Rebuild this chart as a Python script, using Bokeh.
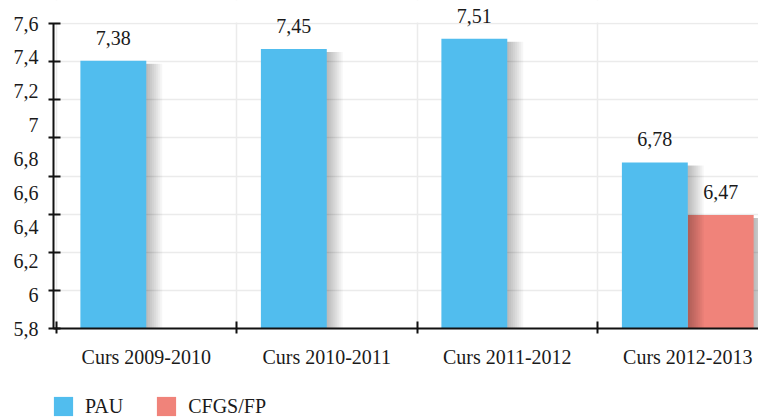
from bokeh.plotting import figure
from bokeh.layouts import column
from bokeh.models import (Range1d, FixedTicker, CustomJSTickFormatter, Legend,
                          LegendItem, ColumnDataSource, BoxAnnotation)
from bokeh.transform import dodge
from bokeh.core.properties import value
from bokeh.embed import file_html
from bokeh.resources import INLINE

# ---- data ----
categories = ["Curs 2009-2010", "Curs 2010-2011", "Curs 2011-2012", "Curs 2012-2013"]
pau_categories = ["Curs 2009-2010", "Curs 2010-2011", "Curs 2011-2012", "Curs 2012-2013"]
pau_values = [7.38, 7.45, 7.51, 6.78]
cfgs_categories = ["Curs 2012-2013"]
cfgs_values = [6.47]
series_names = ["PAU", "CFGS/FP"]
y_tick_labels = [5.8, 6.0, 6.2, 6.4, 6.6, 6.8, 7.0, 7.2, 7.4, 7.6]
y_grid_ticks = [5.8, 6.025, 6.25, 6.475, 6.7, 6.925, 7.15, 7.375, 7.6]
y_min, y_max = 5.8, 7.6

# ---- style ----
BLUE = "#51BDEE"
RED = "#F0837A"
FONT = "Liberation Serif"
TXT = "#1a1a1a"
AXIS = "#111111"
GRID = "#ebebeb"
BAR_W = 0.365
PX = 1.0 / 180.5  # one pixel in x data units
YPX = (y_max - y_min) / 305.0  # one pixel in y data units


def fmt(v):
    return ("%.2f" % v).replace(".", ",")


pau_src = ColumnDataSource(dict(
    x=[categories.index(c) for c in pau_categories],
    v=pau_values,
    label=[fmt(v) for v in pau_values],
))
cfgs_src = ColumnDataSource(dict(
    x=[categories.index(c) for c in cfgs_categories],
    v=cfgs_values,
    label=[fmt(v) for v in cfgs_values],
))

p = figure(width=758, height=370,
           x_range=Range1d(-0.514, -0.514 + 705 * PX),
           y_range=Range1d(y_min, y_max + 23 * YPX),
           output_backend="svg", toolbar_location=None,
           min_border_left=53, min_border_right=0,
           min_border_top=0, min_border_bottom=42)
p.outline_line_color = None
p.background_fill_color = "white"
p.border_fill_color = "white"

# grid
p.ygrid.ticker = FixedTicker(ticks=y_grid_ticks)
p.xgrid.ticker = FixedTicker(ticks=[i - 0.5 for i in range(len(categories) + 1)])
p.grid.grid_line_color = GRID
p.grid.grid_line_width = 1.5
# blank the space above the top grid line
p.add_layout(BoxAnnotation(bottom=y_max + 1 * YPX, fill_color="white",
                           fill_alpha=1, line_color=None, level="underlay"))


def shadow(src, off):
    for k in range(1, 9):
        p.vbar(x=dodge("x", off + k * 2 * PX, range=p.x_range), width=BAR_W,
               top=dodge("v", -3 * YPX), bottom=5.6, source=src,
               fill_color="black", fill_alpha=0.034, line_color=None)


# bars (red first so the blue shadow falls over it)
off_blue = -BAR_W / 2
off_red = BAR_W / 2
shadow(cfgs_src, off_red)
p.vbar(x=dodge("x", off_red, range=p.x_range), width=BAR_W, top="v",
       bottom=5.6, source=cfgs_src, fill_color=RED, line_color=None)
shadow(pau_src, off_blue)
p.vbar(x=dodge("x", off_blue, range=p.x_range), width=BAR_W, top="v",
       bottom=5.6, source=pau_src, fill_color=BLUE, line_color=None)

# value labels
for src, off in ((pau_src, off_blue), (cfgs_src, off_red)):
    p.text(x=dodge("x", off, range=p.x_range), y="v", text="label", source=src,
           text_align="center", text_baseline="alphabetic", y_offset=-23,
           text_font=value(FONT), text_font_size="20px", text_color=TXT)

# axes
for ax in (p.xaxis[0], p.yaxis[0]):
    ax.axis_line_color = AXIS
    ax.axis_line_width = 2
    ax.major_tick_line_color = None
    ax.major_tick_in = 0
    ax.major_tick_out = 0
    ax.minor_tick_line_color = AXIS
    ax.minor_tick_line_width = 2
    ax.minor_tick_in = 7
    ax.minor_tick_out = 5
    ax.major_label_text_font = FONT
    ax.major_label_text_font_size = "20px"
    ax.major_label_text_color = TXT

p.yaxis[0].ticker = FixedTicker(ticks=y_tick_labels, minor_ticks=y_grid_ticks)
p.yaxis[0].formatter = CustomJSTickFormatter(
    code="return (Math.round(tick*10)/10).toString().replace('.', ',');")
p.yaxis[0].major_label_standoff = 10
p.yaxis[0].bounds = (y_min, y_max)

p.xaxis[0].ticker = FixedTicker(
    ticks=list(range(len(categories))),
    minor_ticks=[i - 0.5 for i in range(len(categories) + 1)])
p.xaxis[0].major_label_overrides = {i: c for i, c in enumerate(categories)}
p.xaxis[0].major_label_standoff = 12

# ---- legend strip ----
lf = figure(width=758, height=48, x_range=Range1d(0, 1), y_range=Range1d(0, 1),
            output_backend="svg", toolbar_location=None,
            x_axis_location=None, y_axis_location=None,
            min_border=0, min_border_left=0, min_border_right=0,
            min_border_top=0, min_border_bottom=0)
lf.outline_line_color = None
lf.grid.visible = False
lr_blue = lf.vbar(x="x", top="v", width=BAR_W, source=pau_src,
                  fill_color=BLUE, line_color=None, visible=False)
lr_red = lf.vbar(x="x", top="v", width=BAR_W, source=cfgs_src,
                 fill_color=RED, line_color=None, visible=False)
legend = Legend(items=[LegendItem(label=series_names[0], renderers=[lr_blue]),
                       LegendItem(label=series_names[1], renderers=[lr_red])],
                location=(-2, 0), orientation="horizontal",
                glyph_width=24, glyph_height=24, label_standoff=10, spacing=31,
                padding=0, margin=0, border_line_color=None,
                background_fill_alpha=0,
                label_text_font=FONT, label_text_font_size="20px",
                label_text_color=TXT)
lf.add_layout(legend, "center")

layout = column(p, lf, spacing=0)
open("out.html", "w").write(file_html(layout, INLINE))
